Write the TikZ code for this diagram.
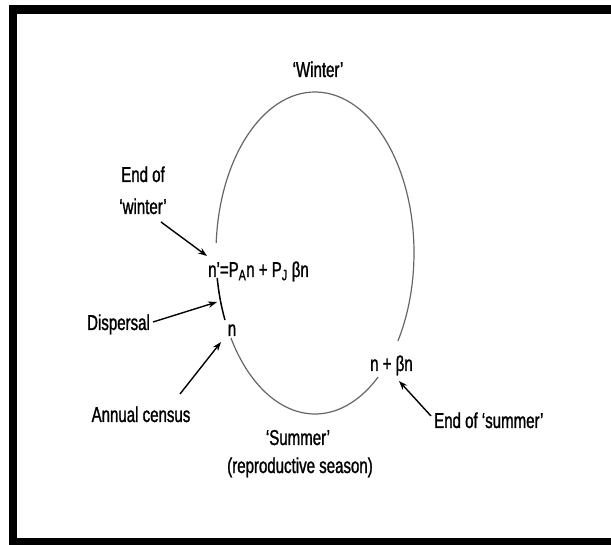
\documentclass[tikz,border=0pt]{standalone}
\usepackage{fontspec}
\setmainfont{Liberation Sans}[FakeStretch=0.7,FakeBold=1.2]
\usetikzlibrary{arrows.meta}
\begin{document}
\begin{tikzpicture}[x=1pt,y=-1pt,
  lbl/.style={font=\fontsize{21.5}{32}\selectfont, inner sep=0pt, anchor=base},
  lblw/.style={lbl, anchor=base west},
  ptr/.style={draw=black, line width=1.4pt, -{Stealth[length=9pt,width=6.5pt]}},
  cyc/.style={draw=black!60, line width=1.2pt},
  dsp/.style={draw=black, line width=1.5pt},
  framebar/.style={fill=black}]
\useasboundingbox (0,0) rectangle (611,545);
\fill[white] (0,0) rectangle (611,545);
% frame
\fill[framebar] (9,5) rectangle (611,14);
\fill[framebar] (9,5) rectangle (17,545);
\fill[framebar] (9,538) rectangle (611,545);
% cycle
\coordinate (C) at (315,253);
\draw[cyc] ([shift={(183.6:99 and 161)}]C) arc[start angle=183.6, end angle=393.1, x radius=99, y radius=161];
\draw[dsp] ([shift={(155.4:99 and 161)}]C) arc[start angle=155.4, end angle=171.1, x radius=99, y radius=161];
\draw[cyc] ([shift={(50.4:99 and 161)}]C) arc[start angle=50.4, end angle=148.1, x radius=99, y radius=161];
% labels
\node[lbl] (winter) at (318,77) {`Winter'};
\node[lbl, align=center] (eow) at (143,214) {End of\\`winter'};
\node[lblw] (form) at (208,277) {n'=P\textsubscript{A}n + P\textsubscript{J} βn};
\node[lbl] (disp) at (118.5,330) {Dispersal};
\node[lbl] (n) at (232,336) {n};
\node[lblw] (nbn) at (370,371) {n + βn};
\node[lbl] (census) at (141,422) {Annual census};
\node[lblw] (eos) at (434,428) {End of `summer'};
\node[lbl] (summer) at (298,445) {`Summer'};
\node[lbl] (repro) at (300,473) {(reproductive season)};
% pointers
\coordinate (eowS) at (161,222);
\coordinate (eowT) at (207,256);
\coordinate (dispS) at (153,322);
\coordinate (dispT) at (217,302);
\coordinate (censS) at (180,394);
\coordinate (censT) at (221,342);
\coordinate (eosS) at (431,416);
\coordinate (eosT) at (399,381);
\draw[ptr] (eowS) -- (eowT);
\draw[ptr] (dispS) -- (dispT);
\draw[ptr] (censS) -- (censT);
\draw[ptr] (eosS) -- (eosT);
\end{tikzpicture}
\end{document}
